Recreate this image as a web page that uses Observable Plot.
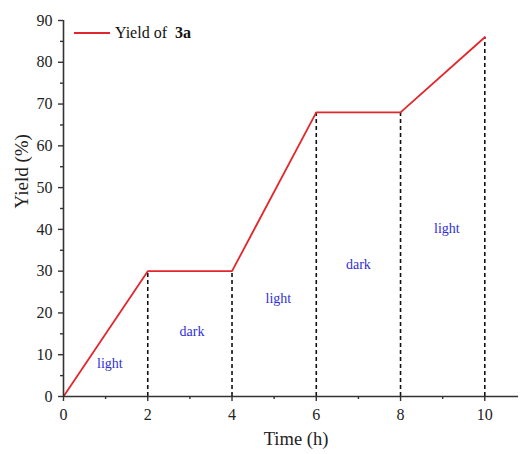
<!DOCTYPE html>
<html><head><meta charset="utf-8">
<script src="https://cdn.jsdelivr.net/npm/d3@7"></script>
<script src="https://cdn.jsdelivr.net/npm/@observablehq/plot@0.6"></script>
<style>
body{margin:0;background:#fff;}
#wrap{position:relative;width:520px;height:454px;font-family:"Liberation Serif","Times New Roman",serif;}
#legend{position:absolute;left:74px;top:23px;height:20px;display:flex;align-items:center;font-size:16px;color:#111;}
#legend .sw{width:36px;height:2px;background:#e3262b;margin-right:5px;}
</style>
</head><body>
<div id="wrap"><div id="legend"><div class="sw"></div><span>Yield of&nbsp; <b>3a</b></span></div></div>
<script>
const times = [0, 2, 4, 6, 8, 10];
const yields = [0, 30, 30, 68, 68, 86];
const phaseLabels = ["light", "dark", "light", "dark", "light"];
const labelX = [1.1, 3.05, 5.1, 7.0, 9.1];
const labelY = [8, 15.5, 23.5, 31.5, 40.2];
const xMajor = [0, 2, 4, 6, 8, 10];
const xMinor = [1, 3, 5, 7, 9];
const yMajor = [0, 10, 20, 30, 40, 50, 60, 70, 80, 90];
const yMinor = [5, 15, 25, 35, 45, 55, 65, 75, 85];

const pts = times.map((t, i) => ({t, y: yields[i]}));
const labels = phaseLabels.map((s, i) => ({s, x: labelX[i], y: labelY[i]}));
const axisColor = "#333";

const chart = Plot.plot({
  width: 520, height: 454,
  marginLeft: 63, marginRight: 2, marginTop: 20, marginBottom: 58,
  style: {fontFamily: '"Liberation Serif","Times New Roman",serif', background: "transparent"},
  x: {domain: [0, 10.8], label: null},
  y: {domain: [0, 90], label: null},
  marks: [
    Plot.ruleX(pts.filter(d => d.t > 0), {x: "t", y1: 0, y2: "y", stroke: "#111", strokeWidth: 1.6, strokeDasharray: "4,3"}),
    Plot.line(pts, {x: "t", y: "y", stroke: "#e3262b", strokeWidth: 1.8}),
    Plot.text(labels, {x: "x", y: "y", text: "s", fill: "#2f2fd8", fontSize: 14}),
    Plot.axisX(xMajor, {tickSize: 5, tickPadding: 7, fontSize: 16, stroke: axisColor, strokeWidth: 1.4, fill: "#222", label: null}),
    Plot.axisX(xMinor, {tickSize: 3, text: null, stroke: axisColor, strokeWidth: 1.4, label: null}),
    Plot.axisY(yMajor, {tickSize: 5, tickPadding: 6, fontSize: 16, stroke: axisColor, strokeWidth: 1.4, fill: "#222", label: null}),
    Plot.axisY(yMinor, {tickSize: 3, text: null, stroke: axisColor, strokeWidth: 1.4, label: null}),
    Plot.ruleY([0], {stroke: axisColor, strokeWidth: 1.6}),
    Plot.ruleX([0], {stroke: axisColor, strokeWidth: 1.6}),
    Plot.text(["Time (h)"], {frameAnchor: "bottom", dx: 5, dy: 48, fontSize: 18.5, fill: "#222"}),
    Plot.text(["Yield (%)"], {frameAnchor: "left", dx: -42, rotate: -90, fontSize: 19, fill: "#222"})
  ]
});
document.getElementById("wrap").prepend(chart);
</script>
</body></html>
